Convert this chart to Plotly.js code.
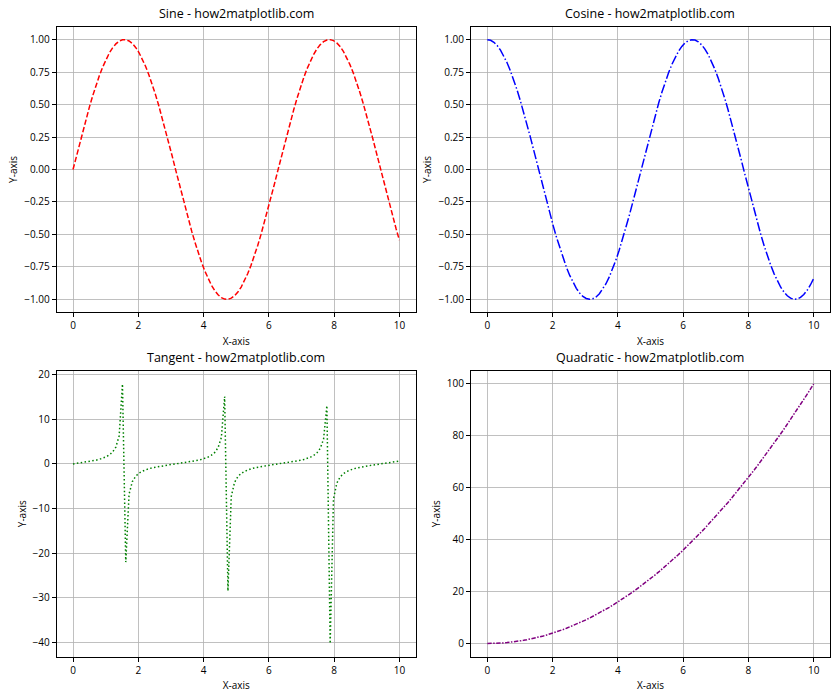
<!DOCTYPE html>
<html>
<head>
<meta charset="utf-8">
<script src="https://cdn.plot.ly/plotly-3.0.1.min.js"></script>
<style>
  html, body { margin: 0; padding: 0; background: #fff; }
  #chart { width: 840px; height: 700px; }
</style>
</head>
<body>
<div id="chart"></div>
<script>
// x sampled 100 times from 0 to 10
const xVals = [0, 0.101, 0.202, 0.303, 0.404, 0.505, 0.606, 0.707, 0.808, 0.909,
  1.010, 1.111, 1.212, 1.313, 1.414, 1.515, 1.616, 1.717, 1.818, 1.919,
  2.020, 2.121, 2.222, 2.323, 2.424, 2.525, 2.626, 2.727, 2.828, 2.929,
  3.030, 3.131, 3.232, 3.333, 3.434, 3.535, 3.636, 3.737, 3.838, 3.939,
  4.040, 4.141, 4.242, 4.343, 4.444, 4.545, 4.646, 4.747, 4.848, 4.949,
  5.051, 5.152, 5.253, 5.354, 5.455, 5.556, 5.657, 5.758, 5.859, 5.960,
  6.061, 6.162, 6.263, 6.364, 6.465, 6.566, 6.667, 6.768, 6.869, 6.970,
  7.071, 7.172, 7.273, 7.374, 7.475, 7.576, 7.677, 7.778, 7.879, 7.980,
  8.081, 8.182, 8.283, 8.384, 8.485, 8.586, 8.687, 8.788, 8.889, 8.990,
  9.091, 9.192, 9.293, 9.394, 9.495, 9.596, 9.697, 9.798, 9.899, 10];

const sineVals = [0, 0.1008, 0.2006, 0.2984, 0.3931, 0.4838, 0.5696, 0.6496, 0.7230, 0.7889,
  0.8469, 0.8962, 0.9364, 0.9670, 0.9878, 0.9985, 0.9990, 0.9893, 0.9696, 0.9399,
  0.9007, 0.8523, 0.7952, 0.7300, 0.6574, 0.5781, 0.4928, 0.4026, 0.3082, 0.2107,
  0.1111, 0.0103, -0.0906, -0.1906, -0.2886, -0.3837, -0.4748, -0.5612, -0.6418, -0.7158,
  -0.7826, -0.8414, -0.8916, -0.9327, -0.9643, -0.9861, -0.9978, -0.9994, -0.9908, -0.9720,
  -0.9434, -0.9051, -0.8576, -0.8014, -0.7370, -0.6651, -0.5864, -0.5017, -0.4120, -0.3180,
  -0.2208, -0.1213, -0.0206, 0.0804, 0.1805, 0.2787, 0.3742, 0.4658, 0.5526, 0.6338,
  0.7086, 0.7762, 0.8358, 0.8869, 0.9290, 0.9615, 0.9843, 0.9971, 0.9997, 0.9921,
  0.9744, 0.9467, 0.9095, 0.8629, 0.8075, 0.7439, 0.6727, 0.5947, 0.5106, 0.4213,
  0.3277, 0.2308, 0.1315, 0.0308, -0.0701, -0.1704, -0.2688, -0.3646, -0.4566, -0.5440];

const cosineVals = [1.0000, 0.9949, 0.9797, 0.9544, 0.9195, 0.8752, 0.8219, 0.7603, 0.6909, 0.6145,
  0.5318, 0.4437, 0.3510, 0.2548, 0.1560, 0.0556, -0.0454, -0.1459, -0.2449, -0.3414,
  -0.4344, -0.5230, -0.6063, -0.6834, -0.7536, -0.8160, -0.8701, -0.9154, -0.9513, -0.9776,
  -0.9938, -0.9999, -0.9959, -0.9817, -0.9575, -0.9235, -0.8801, -0.8277, -0.7669, -0.6983,
  -0.6225, -0.5405, -0.4529, -0.3606, -0.2648, -0.1662, -0.0659, 0.0351, 0.1357, 0.2349,
  0.3317, 0.4252, 0.5143, 0.5981, 0.6759, 0.7468, 0.8100, 0.8650, 0.9112, 0.9481,
  0.9753, 0.9926, 0.9998, 0.9968, 0.9836, 0.9604, 0.9274, 0.8849, 0.8334, 0.7735,
  0.7056, 0.6306, 0.5491, 0.4620, 0.3702, 0.2747, 0.1763, 0.0761, -0.0248, -0.1255,
  -0.2249, -0.3220, -0.4158, -0.5054, -0.5898, -0.6683, -0.7399, -0.8039, -0.8598, -0.9069,
  -0.9448, -0.9730, -0.9913, -0.9995, -0.9975, -0.9854, -0.9632, -0.9312, -0.8897, -0.8391];

const tangentVals = [0, 0.101, 0.205, 0.313, 0.428, 0.553, 0.693, 0.854, 1.046, 1.284,
  1.593, 2.020, 2.667, 3.795, 6.331, 17.953, -22.028, -6.783, -3.960, -2.753,
  -2.073, -1.630, -1.312, -1.068, -0.872, -0.708, -0.566, -0.440, -0.324, -0.216,
  -0.112, -0.010, 0.091, 0.194, 0.301, 0.415, 0.540, 0.678, 0.837, 1.025,
  1.257, 1.557, 1.969, 2.586, 3.642, 5.935, 15.147, -28.489, -7.302, -4.138,
  -2.844, -2.129, -1.668, -1.340, -1.090, -0.891, -0.724, -0.580, -0.452, -0.335,
  -0.226, -0.122, -0.021, 0.081, 0.183, 0.290, 0.403, 0.526, 0.663, 0.819,
  1.004, 1.231, 1.522, 1.920, 2.509, 3.501, 5.584, 13.097, -40.310, -7.906,
  -4.333, -2.940, -2.187, -1.707, -1.369, -1.113, -0.909, -0.740, -0.594, -0.465,
  -0.347, -0.237, -0.133, -0.031, 0.070, 0.173, 0.279, 0.392, 0.513, 0.648];

const quadVals = [0, 0.010, 0.041, 0.092, 0.163, 0.255, 0.367, 0.500, 0.653, 0.826,
  1.020, 1.235, 1.469, 1.724, 2.000, 2.296, 2.612, 2.949, 3.306, 3.683,
  4.081, 4.500, 4.938, 5.397, 5.877, 6.377, 6.897, 7.438, 7.999, 8.581,
  9.183, 9.805, 10.448, 11.111, 11.795, 12.499, 13.223, 13.968, 14.733, 15.519,
  16.325, 17.151, 17.998, 18.865, 19.753, 20.661, 21.590, 22.539, 23.508, 24.498,
  25.508, 26.538, 27.589, 28.660, 29.752, 30.864, 31.997, 33.150, 34.323, 35.517,
  36.731, 37.966, 39.221, 40.496, 41.792, 43.108, 44.444, 45.802, 47.179, 48.577,
  49.995, 51.434, 52.893, 54.372, 55.872, 57.392, 58.933, 60.494, 62.075, 63.677,
  65.300, 66.942, 68.605, 70.289, 71.993, 73.717, 75.462, 77.227, 79.012, 80.818,
  82.645, 84.491, 86.359, 88.246, 90.154, 92.082, 94.031, 96.000, 97.990, 100.0];

const xTicks = [0, 2, 4, 6, 8, 10];
const titles = ['Sine - how2matplotlib.com', 'Cosine - how2matplotlib.com',
  'Tangent - how2matplotlib.com', 'Quadratic - how2matplotlib.com'];

const FONT = 'Open Sans, Noto Sans, DejaVu Sans, sans-serif';

// matplotlib-like autoscale: data limits with 5% margin
function padRange(arr) {
  const lo = Math.min(...arr), hi = Math.max(...arr);
  const m = (hi - lo) * 0.05;
  return [lo - m, hi + m];
}

const colX = [[0.0675, 0.4949], [0.5607, 0.9881]];
const rowY = [[0.5539, 0.9619], [0.0621, 0.4700]];

const series = [
  {y: sineVals, color: 'red', dash: '5.4px,2.3px', dtick: 0.25, fmt: '.2f'},
  {y: cosineVals, color: 'blue', dash: '9.3px,2.3px,1.5px,2.3px', dtick: 0.25, fmt: '.2f'},
  {y: tangentVals, color: 'green', dash: '1.5px,2.4px', dtick: 10, fmt: ''},
  {y: quadVals, color: 'purple', dash: '4.4px,1.5px,1.5px,1.5px', dtick: 20, fmt: ''}
];

const data = [];
const layout = {
  width: 840, height: 700,
  margin: {l: 0, r: 0, t: 0, b: 0},
  paper_bgcolor: 'white', plot_bgcolor: 'white',
  showlegend: false,
  font: {family: FONT, size: 10, color: 'black'},
  annotations: []
};

function axisBase() {
  return {
    showline: true, mirror: true, linecolor: 'black', linewidth: 1,
    ticks: 'outside', ticklen: 4, tickwidth: 1, tickcolor: 'black',
    showgrid: true, gridcolor: '#b0b0b0', gridwidth: 0.8,
    zeroline: false,
    tickfont: {family: FONT, size: 10, color: 'black'}
  };
}

series.forEach((s, i) => {
  const n = i + 1;
  const r = Math.floor(i / 2), c = i % 2;
  const xa = n === 1 ? 'x' : 'x' + n;
  const ya = n === 1 ? 'y' : 'y' + n;
  data.push({
    x: xVals, y: s.y, type: 'scatter', mode: 'lines',
    xaxis: xa, yaxis: ya,
    line: {color: s.color, width: 1.5, dash: s.dash}
  });
  layout['xaxis' + (n === 1 ? '' : n)] = Object.assign(axisBase(), {
    domain: colX[c], anchor: ya,
    range: padRange(xVals), tickvals: xTicks,
    title: {text: 'X-axis', font: {family: FONT, size: 10}, standoff: 6}
  });
  layout['yaxis' + (n === 1 ? '' : n)] = Object.assign(axisBase(), {
    domain: rowY[r], anchor: xa,
    range: padRange(s.y), dtick: s.dtick, tickformat: s.fmt,
    title: {text: 'Y-axis', font: {family: FONT, size: 10}, standoff: 4}
  });
  layout.annotations.push({
    text: titles[i], xref: 'paper', yref: 'paper',
    x: (colX[c][0] + colX[c][1]) / 2, y: rowY[r][1],
    xanchor: 'center', yanchor: 'bottom', yshift: 3,
    showarrow: false, font: {family: FONT, size: 12.5, color: 'black'}
  });
});

Plotly.newPlot('chart', data, layout, {staticPlot: true});
</script>
</body>
</html>
